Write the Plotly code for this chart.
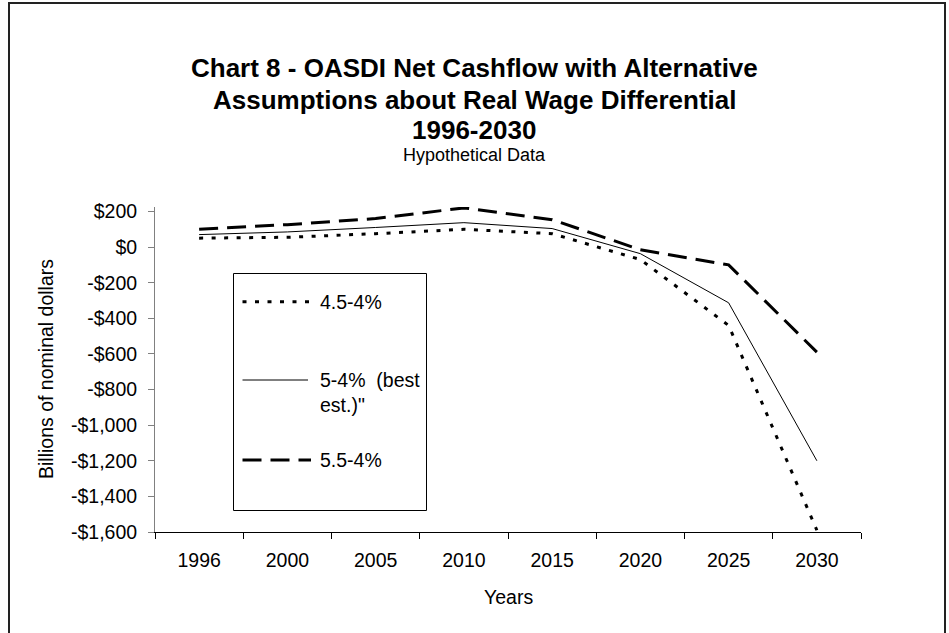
import plotly.graph_objects as go

# ---- data ----
years = ["1996", "2000", "2005", "2010", "2015", "2020", "2025", "2030"]
low_45 = [50, 55, 75, 100, 75, -70, -440, -1590]       # 4.5-4%
best_5 = [70, 85, 110, 137, 104, -37, -313, -1200]     # 5-4% (best est.)
high_55 = [100, 126, 160, 220, 154, -15, -100, -590]   # 5.5-4%
series_names = ["4.5-4%", "5-4%  (best<br>est.)\"", "5.5-4%"]
ytick_vals = list(range(-1600, 201, 200))
ytick_text = [("-$" if v < 0 else "$") + f"{abs(v):,}" for v in ytick_vals]

title_lines = ["Chart 8 - OASDI Net Cashflow with Alternative",
               "Assumptions about Real Wage Differential",
               "1996-2030"]
subtitle = "Hypothetical Data"
x_title = "Years"
y_title = "Billions of nominal dollars"

# ---- geometry (pixels) ----
W, H = 949, 633
L, R, T, B = 155, 88, 207, 101
PW, PH = W - L - R, H - T - B


def px(xp):
    return (xp - L) / PW


def py(yp):
    return (H - B - yp) / PH


FONT = "Liberation Sans, Arial, sans-serif"
FS = 19.5

styles = [dict(color="black", width=3, dash="4px,8.5px"),
          dict(color="black", width=1, dash="solid"),
          dict(color="black", width=3, dash="19px,9px")]

fig = go.Figure()
for name, vals, st in zip(series_names, [low_45, best_5, high_55], styles):
    fig.add_trace(go.Scatter(x=years, y=vals, mode="lines", name=name,
                             line=st, showlegend=False, hoverinfo="skip"))

fig.update_layout(
    width=W, height=H, autosize=False,
    margin=dict(l=L, r=R, t=T, b=B, pad=0),
    paper_bgcolor="white", plot_bgcolor="white",
    font=dict(family=FONT, size=FS, color="black"),
    showlegend=False,
)

fig.update_xaxes(type="category", range=[-0.5, 7.5], tickson="boundaries",
                 ticks="outside", ticklen=6, tickcolor="black", tickwidth=1,
                 showline=True, linecolor="black", linewidth=1,
                 showgrid=False, zeroline=False,
                 tickfont=dict(size=FS), ticklabelstandoff=11)
fig.update_yaxes(range=[-1600, 225], tickmode="array", tickvals=ytick_vals,
                 ticktext=ytick_text, ticks="outside", ticklen=6,
                 tickcolor="#808080", tickwidth=1,
                 showline=True, linecolor="#808080", linewidth=1,
                 showgrid=False, zeroline=False,
                 tickfont=dict(size=FS), ticklabelstandoff=7)

ann = []
# title lines
for txt, yc in zip(title_lines, [68, 100, 130]):
    ann.append(dict(text=f"<b>{txt}</b>", x=px(474), y=py(yc), xref="paper",
                    yref="paper", xanchor="center", yanchor="middle",
                    showarrow=False, font=dict(size=26, family=FONT)))
ann.append(dict(text=subtitle, x=px(474), y=py(155), xref="paper", yref="paper",
                xanchor="center", yanchor="middle", showarrow=False,
                font=dict(size=18, family=FONT)))
ann.append(dict(text=x_title, x=px(508), y=py(597), xref="paper", yref="paper",
                xanchor="center", yanchor="middle", showarrow=False,
                font=dict(size=FS, family=FONT)))
ann.append(dict(text=y_title, x=px(46), y=py(369), xref="paper", yref="paper",
                xanchor="center", yanchor="middle", showarrow=False,
                textangle=-90, font=dict(size=FS, family=FONT)))

shapes = []
# outer frame
shapes.append(dict(type="rect", xref="paper", yref="paper",
                   x0=px(9), x1=px(945), y0=py(660), y1=py(3),
                   line=dict(color="#222", width=2), fillcolor="rgba(0,0,0,0)"))
# legend box
shapes.append(dict(type="rect", xref="paper", yref="paper",
                   x0=px(233.5), x1=px(426.5), y0=py(510.5), y1=py(273.5),
                   line=dict(color="black", width=1), fillcolor="white"))
leg_rows = [(301.7, 315, 301.7), (380, 308, 392), (460, 311, 460)]
for name, st, (ly, lx1, ty) in zip(series_names, styles, leg_rows):
    shapes.append(dict(type="line", xref="paper", yref="paper",
                       x0=px(242.5), x1=px(lx1), y0=py(ly), y1=py(ly),
                       line=st))
    ann.append(dict(text=name, x=px(317.5), y=py(ty), xref="paper", yref="paper",
                    xanchor="left", yanchor="middle", align="left",
                    showarrow=False, font=dict(size=FS, family=FONT)))

fig.update_layout(annotations=ann, shapes=shapes)
fig.write_html("out.html", config={"displayModeBar": False},
               post_script="document.body.style.margin='0';"
                           "document.body.style.overflow='hidden';")
